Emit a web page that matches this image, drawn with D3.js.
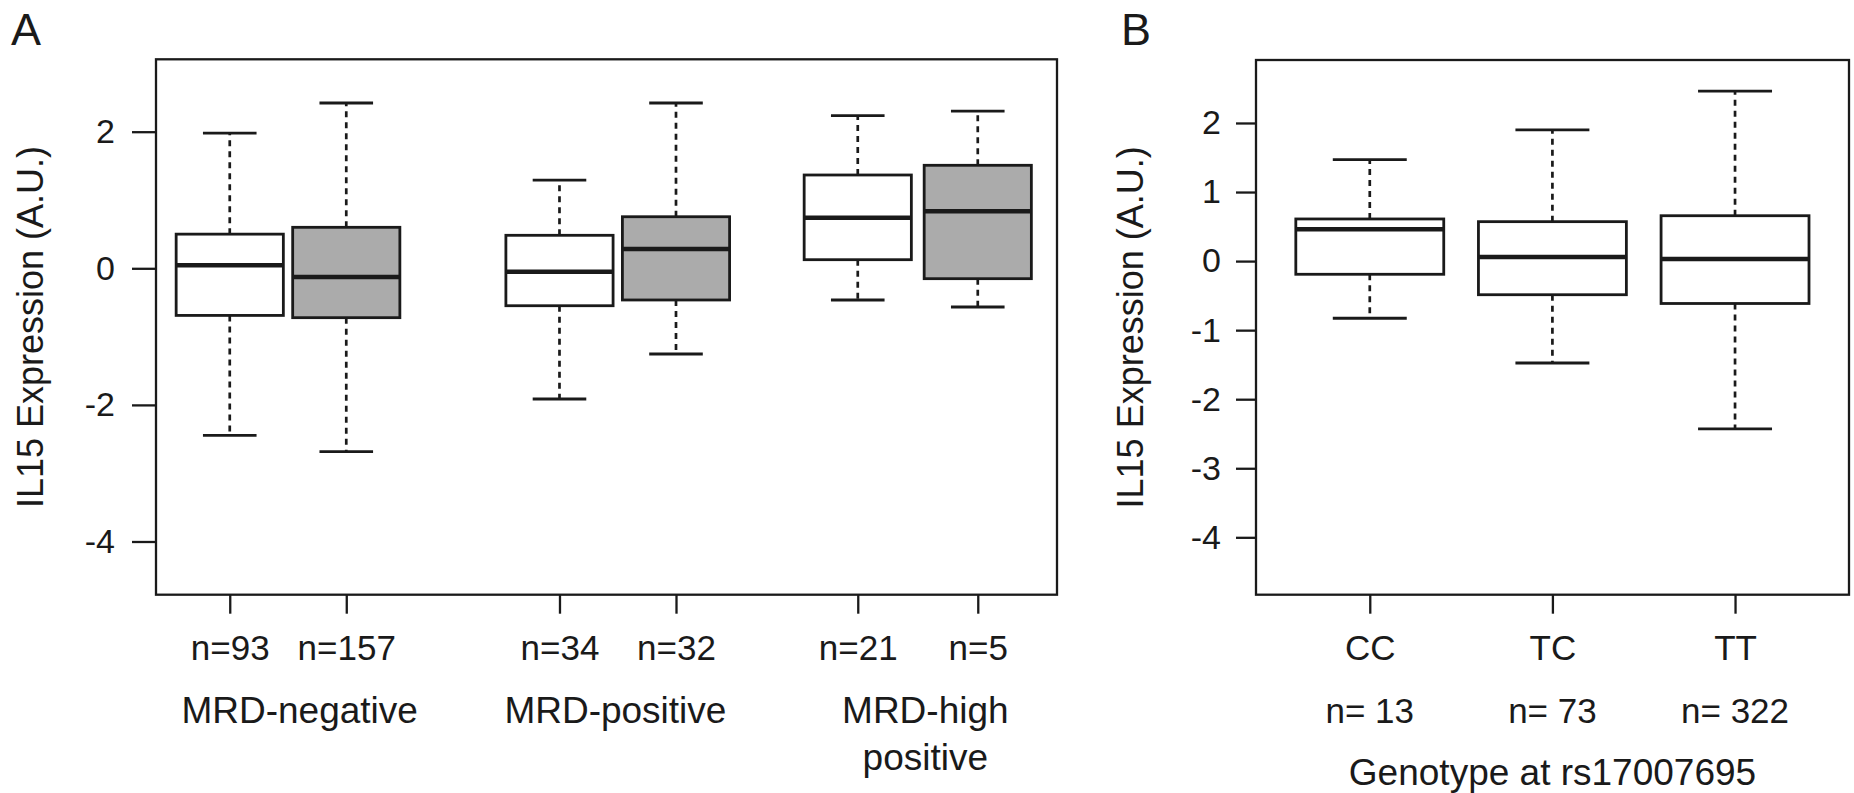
<!DOCTYPE html>
<html>
<head>
<meta charset="utf-8">
<script src="https://cdn.jsdelivr.net/npm/d3@7"></script>
<style>
  html, body { margin: 0; padding: 0; background: #fff; }
  svg { display: block; }
  text { font-family: "Liberation Sans", Arial, Helvetica, sans-serif; fill: #1a1a1a; }
</style>
</head>
<body>
<svg id="chart" width="1854" height="793"></svg>
<script>
// ---------- Panel A data ----------
const countsA = ["n=93", "n=157", "n=34", "n=32", "n=21", "n=5"];
const groupsA = [["MRD-negative"], ["MRD-positive"], ["MRD-high", "positive"]];
const groupLabelAtA = [1.60, 4.31, 6.97];
const shadedA = [false, true, false, true, false, true];
const positionsA = [1, 2, 3.83, 4.83, 6.39, 7.42];
const lowerA  = [-2.445, -2.685, -1.914, -1.255, -0.464, -0.567];
const q1A     = [-0.690, -0.723, -0.548, -0.464,  0.126, -0.152];
const medianA = [ 0.044, -0.127, -0.050,  0.283,  0.741,  0.835];
const q3A     = [ 0.500,  0.600,  0.483,  0.755,  1.366,  1.508];
const upperA  = [ 1.980,  2.420,  1.290,  2.420,  2.234,  2.300];
const yTicksA = [2, 0, -2, -4];

// ---------- Panel B data ----------
const genotypesB = ["CC", "TC", "TT"];
const countsB = ["n= 13", "n= 73", "n= 322"];
const positionsB = [1, 2, 3];
const lowerB  = [-0.828, -1.476, -2.430];
const q1B     = [-0.191, -0.487, -0.614];
const medianB = [ 0.460,  0.059,  0.030];
const q3B     = [ 0.610,  0.571,  0.657];
const upperB  = [ 1.468,  1.899,  2.462];
const yTicksB = [2, 1, 0, -1, -2, -3, -4];

const yTitle = "IL15 Expression (A.U.)";
const xTitleB = "Genotype at rs17007695";

const svg = d3.select("#chart");
const INK = "#1a1a1a";
const GREY = "#ababab";

function drawPanel(cfg) {
  const g = svg.append("g");
  const x = d3.scaleLinear().domain(cfg.xDomain).range([cfg.left, cfg.right]);
  const y = d3.scaleLinear().domain(cfg.yDomain).range([cfg.bottom, cfg.top]);

  // y axis
  const ya = g.append("g")
    .attr("transform", `translate(${cfg.left},0)`)
    .call(d3.axisLeft(y).tickValues(cfg.yTicks).tickSize(cfg.yTickSize).tickPadding(cfg.yPad)
      .tickFormat(d => String(d)));
  ya.select(".domain").remove();
  ya.selectAll(".tick line").attr("stroke", INK).attr("stroke-width", 2.3);
  ya.selectAll(".tick text").attr("font-size", 34).attr("fill", INK)
    .style("font-family", '"Liberation Sans", Arial, sans-serif');

  // x axis (ticks + first label row)
  const xa = g.append("g")
    .attr("transform", `translate(0,${cfg.bottom})`)
    .call(d3.axisBottom(x).tickValues(cfg.pos).tickSize(19).tickPadding(21)
      .tickFormat((d, i) => cfg.xLabels[i]));
  xa.select(".domain").remove();
  xa.selectAll(".tick line").attr("stroke", INK).attr("stroke-width", 2.3);
  xa.selectAll(".tick text").attr("font-size", 35).attr("fill", INK)
    .style("font-family", '"Liberation Sans", Arial, sans-serif');

  const n = cfg.pos.length;
  const idx = d3.range(n);
  const bw = cfg.boxWidth;
  const px = u => x(u) - x(0);

  // whiskers (dashed)
  g.selectAll(".wu").data(idx).join("line")
    .attr("x1", i => x(cfg.pos[i])).attr("x2", i => x(cfg.pos[i]))
    .attr("y1", i => y(cfg.q3[i])).attr("y2", i => y(cfg.upper[i]))
    .attr("stroke", INK).attr("stroke-width", 2.7).attr("stroke-dasharray", "6,5");
  g.selectAll(".wl").data(idx).join("line")
    .attr("x1", i => x(cfg.pos[i])).attr("x2", i => x(cfg.pos[i]))
    .attr("y1", i => y(cfg.q1[i])).attr("y2", i => y(cfg.lower[i]))
    .attr("stroke", INK).attr("stroke-width", 2.7).attr("stroke-dasharray", "6,5");
  // caps
  [cfg.upper, cfg.lower].forEach(arr => {
    g.append("g").selectAll("line").data(idx).join("line")
      .attr("x1", i => x(cfg.pos[i]) - px(bw / 4)).attr("x2", i => x(cfg.pos[i]) + px(bw / 4))
      .attr("y1", i => y(arr[i])).attr("y2", i => y(arr[i]))
      .attr("stroke", INK).attr("stroke-width", 2.8);
  });
  // boxes
  g.append("g").selectAll("rect").data(idx).join("rect")
    .attr("x", i => x(cfg.pos[i]) - px(bw / 2))
    .attr("width", px(bw))
    .attr("y", i => y(cfg.q3[i]))
    .attr("height", i => y(cfg.q1[i]) - y(cfg.q3[i]))
    .attr("fill", i => cfg.shaded[i] ? GREY : "#fff")
    .attr("stroke", INK).attr("stroke-width", 2.8);
  // medians
  g.append("g").selectAll("line").data(idx).join("line")
    .attr("x1", i => x(cfg.pos[i]) - px(bw / 2)).attr("x2", i => x(cfg.pos[i]) + px(bw / 2))
    .attr("y1", i => y(cfg.median[i])).attr("y2", i => y(cfg.median[i]))
    .attr("stroke", INK).attr("stroke-width", 4.5);

  // frame
  g.append("rect")
    .attr("x", cfg.left).attr("y", cfg.top)
    .attr("width", cfg.right - cfg.left).attr("height", cfg.bottom - cfg.top)
    .attr("fill", "none").attr("stroke", INK).attr("stroke-width", 2.3);

  // y title
  const cy = (cfg.top + cfg.bottom) / 2;
  g.append("text")
    .attr("transform", `translate(${cfg.left - 113},${cy}) rotate(-90)`)
    .attr("text-anchor", "middle").attr("font-size", 36)
    .text(yTitle);

  // panel letter
  g.append("text").attr("x", cfg.letterX).attr("y", 45)
    .attr("font-size", 45).text(cfg.letter);

  return { g, x, y };
}

// ---------- Panel A ----------
const A = drawPanel({
  left: 156, right: 1057, top: 59.3, bottom: 594.7,
  xDomain: [0.367, 8.10], yDomain: [-4.779, 3.06],
  yTicks: yTicksA, yTickSize: 24, yPad: 17,
  pos: positionsA, xLabels: countsA, boxWidth: 0.92,
  lower: lowerA, q1: q1A, median: medianA, q3: q3A, upper: upperA,
  shaded: shadedA, letter: "A", letterX: 11
});
groupsA.forEach((lines, gi) => {
  const cx = A.x(groupLabelAtA[gi]);
  const t = A.g.append("text").attr("text-anchor", "middle").attr("font-size", 37);
  lines.forEach((ln, li) => {
    t.append("tspan").attr("x", cx).attr("y", 723 + li * 47).text(ln);
  });
});

// ---------- Panel B ----------
const B = drawPanel({
  left: 1256, right: 1849, top: 60, bottom: 594.7,
  xDomain: [0.377, 3.624], yDomain: [-4.831, 2.912],
  yTicks: yTicksB, yTickSize: 20, yPad: 15,
  pos: positionsB, xLabels: genotypesB, boxWidth: 0.81,
  lower: lowerB, q1: q1B, median: medianB, q3: q3B, upper: upperB,
  shaded: [false, false, false], letter: "B", letterX: 1121
});
B.g.append("g").selectAll("text").data(countsB).join("text")
  .attr("x", (d, i) => B.x(positionsB[i])).attr("y", 723)
  .attr("text-anchor", "middle").attr("font-size", 35).text(d => d);
B.g.append("text").attr("x", (1256 + 1849) / 2).attr("y", 785)
  .attr("text-anchor", "middle").attr("font-size", 37).text(xTitleB);
</script>
</body>
</html>
